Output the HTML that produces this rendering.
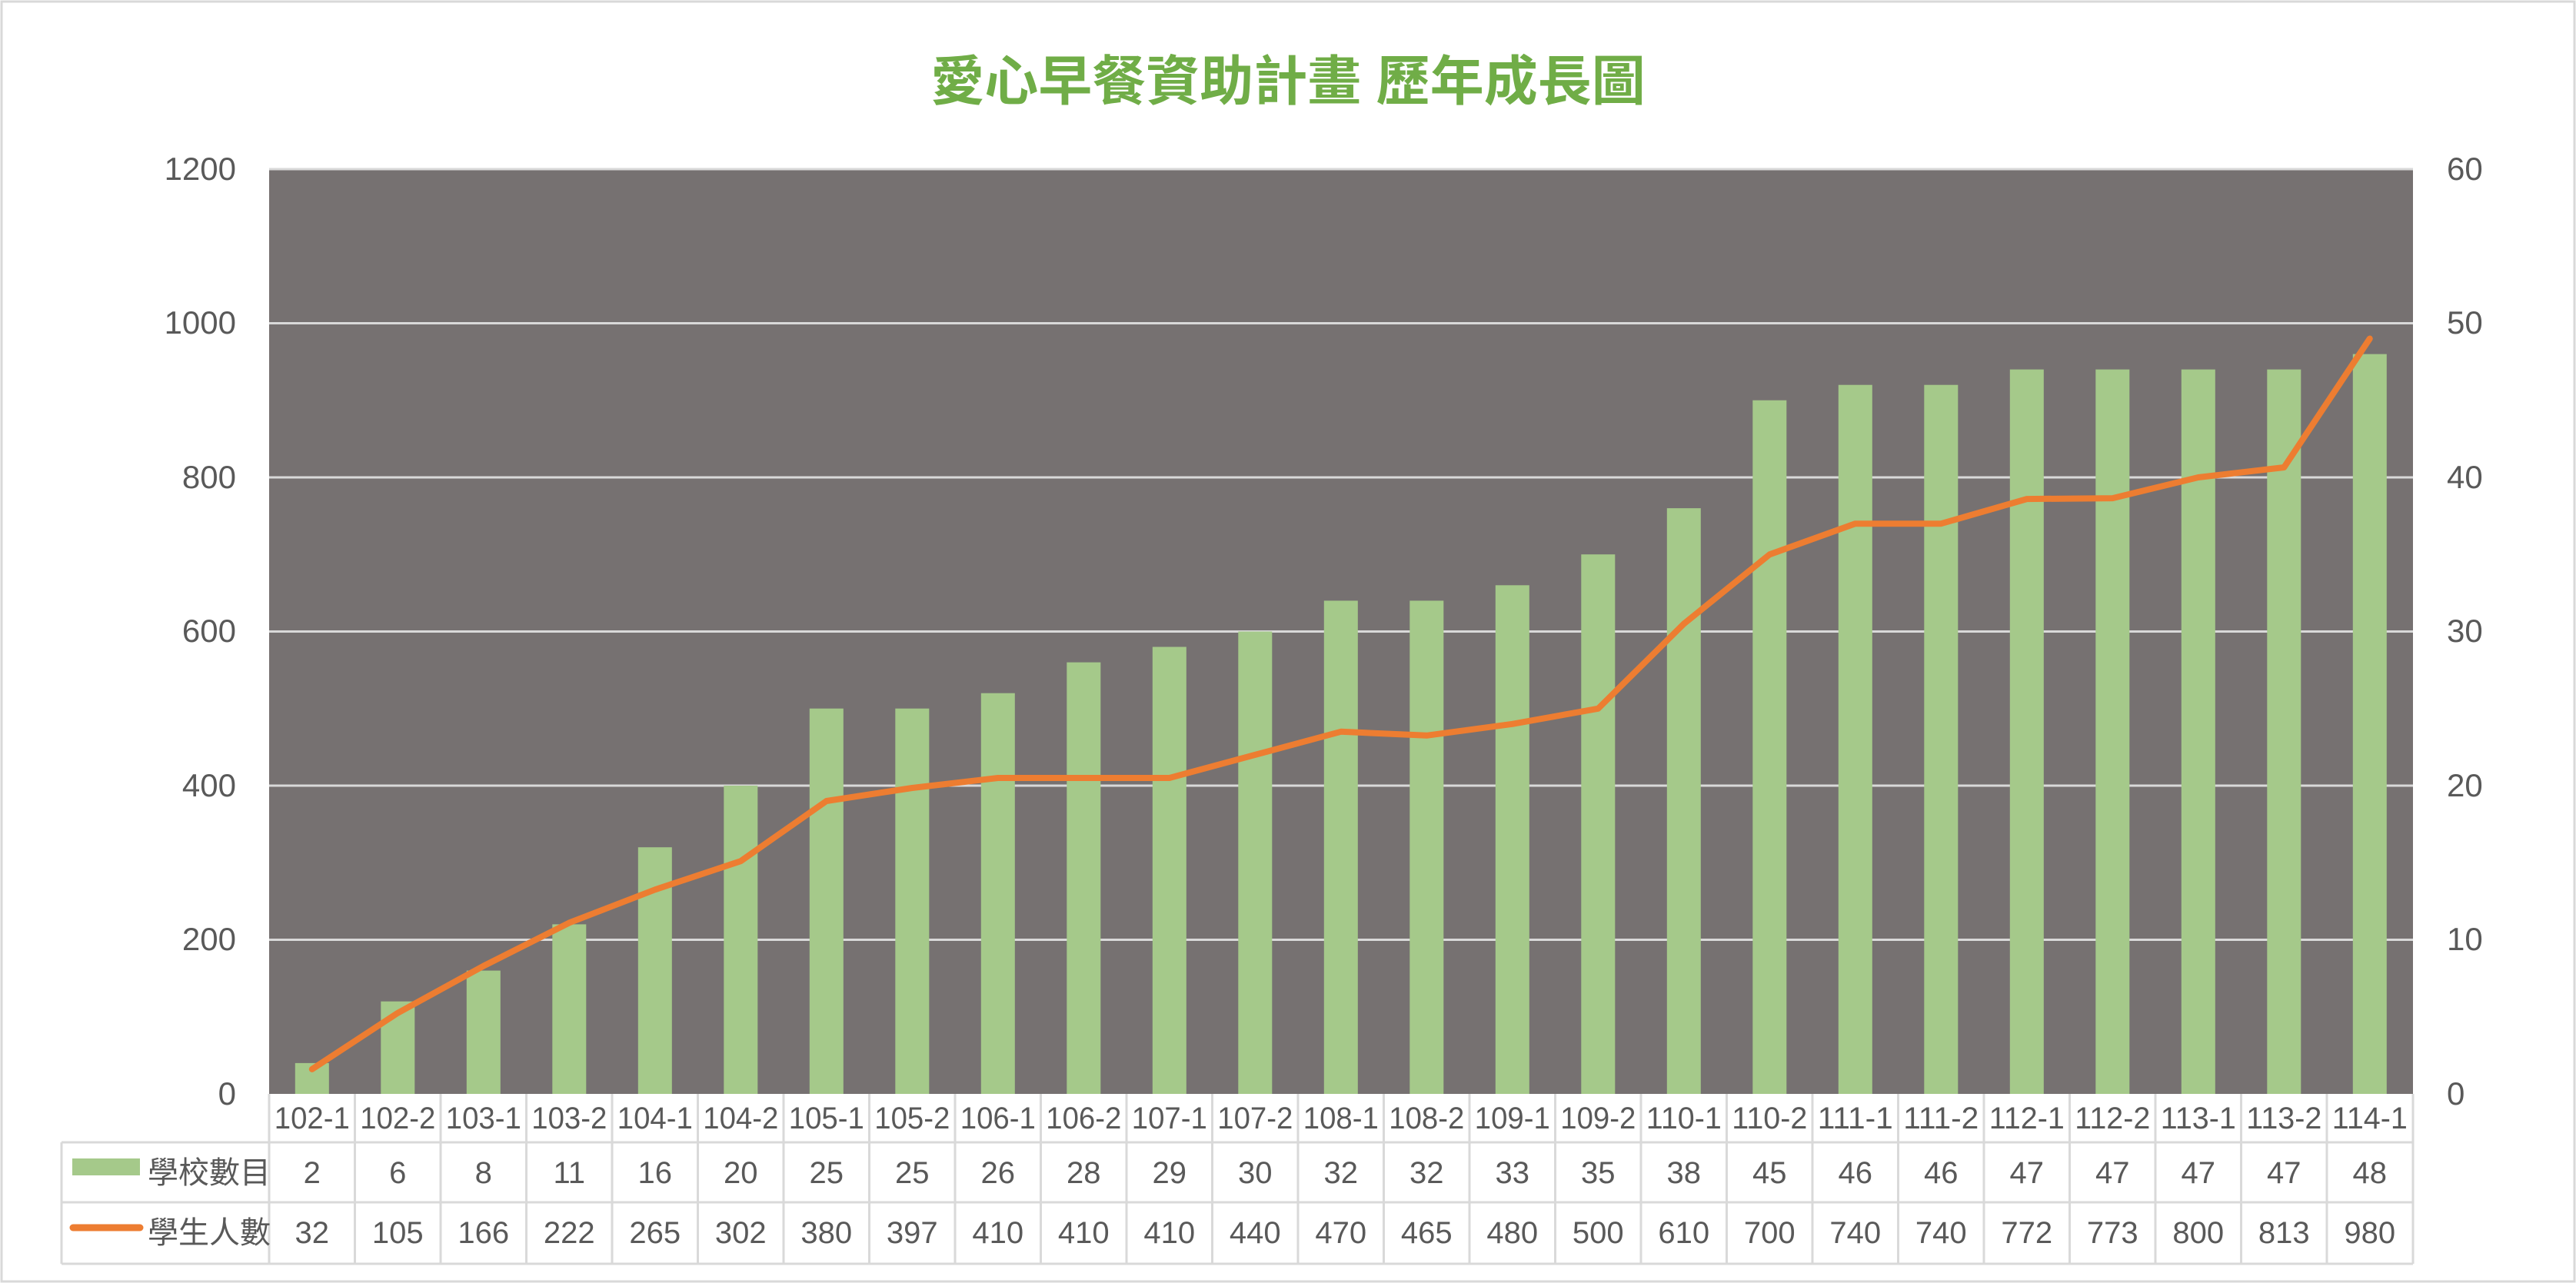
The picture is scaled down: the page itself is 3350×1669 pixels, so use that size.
<!DOCTYPE html>
<html><head><meta charset="utf-8"><style>html,body{margin:0;padding:0;background:#fff}svg{display:block}</style></head>
<body>
<svg width="3350" height="1669" viewBox="0 0 3350 1669" xmlns="http://www.w3.org/2000/svg" font-family="'Liberation Sans','Noto Sans CJK TC',sans-serif">
<rect x="2" y="2" width="3346" height="1665" fill="#fff" stroke="#d9d9d9" stroke-width="3"/>
<text x="1675" y="130" text-anchor="middle" font-size="70" font-weight="bold" fill="#70ad47" font-family="'Liberation Sans','Noto Sans CJK TC',sans-serif">愛心早餐資助計畫 歷年成長圖</text>
<rect x="350" y="220" width="2788" height="1203" fill="#767171"/>
<g stroke="#d9d9d9" stroke-width="3">
<line x1="350" y1="220" x2="3138" y2="220"/>
<line x1="350" y1="420.5" x2="3138" y2="420.5"/>
<line x1="350" y1="621" x2="3138" y2="621"/>
<line x1="350" y1="821.5" x2="3138" y2="821.5"/>
<line x1="350" y1="1022" x2="3138" y2="1022"/>
<line x1="350" y1="1222.5" x2="3138" y2="1222.5"/>
</g>
<g fill="#a5c98a">
<rect x="383.8" y="1382.9" width="44" height="40.1"/>
<rect x="495.3" y="1302.7" width="44" height="120.3"/>
<rect x="606.8" y="1262.6" width="44" height="160.4"/>
<rect x="718.3" y="1202.4" width="44" height="220.6"/>
<rect x="829.8" y="1102.2" width="44" height="320.8"/>
<rect x="941.3" y="1022" width="44" height="401"/>
<rect x="1052.8" y="921.7" width="44" height="501.3"/>
<rect x="1164.3" y="921.7" width="44" height="501.3"/>
<rect x="1275.8" y="901.7" width="44" height="521.3"/>
<rect x="1387.3" y="861.6" width="44" height="561.4"/>
<rect x="1498.8" y="841.5" width="44" height="581.5"/>
<rect x="1610.3" y="821.5" width="44" height="601.5"/>
<rect x="1721.8" y="781.4" width="44" height="641.6"/>
<rect x="1833.3" y="781.4" width="44" height="641.6"/>
<rect x="1944.8" y="761.3" width="44" height="661.7"/>
<rect x="2056.3" y="721.2" width="44" height="701.8"/>
<rect x="2167.8" y="661.1" width="44" height="761.9"/>
<rect x="2279.3" y="520.7" width="44" height="902.3"/>
<rect x="2390.8" y="500.7" width="44" height="922.3"/>
<rect x="2502.3" y="500.7" width="44" height="922.3"/>
<rect x="2613.8" y="480.6" width="44" height="942.4"/>
<rect x="2725.3" y="480.6" width="44" height="942.4"/>
<rect x="2836.8" y="480.6" width="44" height="942.4"/>
<rect x="2948.3" y="480.6" width="44" height="942.4"/>
<rect x="3059.8" y="460.6" width="44" height="962.4"/>
</g>
<polyline fill="none" stroke="#ed7d31" stroke-width="8" stroke-linecap="round" stroke-linejoin="round" points="405.8,1390.9 517.3,1317.7 628.8,1256.6 740.3,1200.4 851.8,1157.3 963.3,1120.2 1074.8,1042 1186.3,1025 1297.8,1012 1409.3,1012 1520.8,1012 1632.3,981.9 1743.8,951.8 1855.3,956.8 1966.8,941.8 2078.3,921.8 2189.8,811.5 2301.3,721.3 2412.8,681.2 2524.3,681.2 2635.8,649.1 2747.3,648.1 2858.8,621 2970.3,608 3081.8,440.5"/>
<g font-size="42" fill="#595959" text-anchor="end">
<text x="307" y="234">1200</text><text x="307" y="434">1000</text><text x="307" y="635">800</text><text x="307" y="835">600</text><text x="307" y="1036">400</text><text x="307" y="1236">200</text><text x="307" y="1437">0</text>
</g>
<g font-size="42" fill="#595959" text-anchor="start">
<text x="3182" y="234">60</text><text x="3182" y="434">50</text><text x="3182" y="635">40</text><text x="3182" y="835">30</text><text x="3182" y="1036">20</text><text x="3182" y="1236">10</text><text x="3182" y="1437">0</text>
</g>
<g stroke="#d9d9d9" stroke-width="3" fill="none">
<line x1="350" y1="1423" x2="350" y2="1644"/>
<line x1="80" y1="1486" x2="3138" y2="1486"/>
<line x1="80" y1="1564" x2="3138" y2="1564"/>
<line x1="80" y1="1644" x2="3138" y2="1644"/>
<line x1="80" y1="1486" x2="80" y2="1644"/>
<line x1="461.5" y1="1423" x2="461.5" y2="1644"/><line x1="573" y1="1423" x2="573" y2="1644"/><line x1="684.5" y1="1423" x2="684.5" y2="1644"/><line x1="796" y1="1423" x2="796" y2="1644"/><line x1="907.5" y1="1423" x2="907.5" y2="1644"/><line x1="1019" y1="1423" x2="1019" y2="1644"/><line x1="1130.5" y1="1423" x2="1130.5" y2="1644"/><line x1="1242" y1="1423" x2="1242" y2="1644"/><line x1="1353.5" y1="1423" x2="1353.5" y2="1644"/><line x1="1465" y1="1423" x2="1465" y2="1644"/><line x1="1576.5" y1="1423" x2="1576.5" y2="1644"/><line x1="1688" y1="1423" x2="1688" y2="1644"/><line x1="1799.5" y1="1423" x2="1799.5" y2="1644"/><line x1="1911" y1="1423" x2="1911" y2="1644"/><line x1="2022.5" y1="1423" x2="2022.5" y2="1644"/><line x1="2134" y1="1423" x2="2134" y2="1644"/><line x1="2245.5" y1="1423" x2="2245.5" y2="1644"/><line x1="2357" y1="1423" x2="2357" y2="1644"/><line x1="2468.5" y1="1423" x2="2468.5" y2="1644"/><line x1="2580" y1="1423" x2="2580" y2="1644"/><line x1="2691.5" y1="1423" x2="2691.5" y2="1644"/><line x1="2803" y1="1423" x2="2803" y2="1644"/><line x1="2914.5" y1="1423" x2="2914.5" y2="1644"/><line x1="3026" y1="1423" x2="3026" y2="1644"/><line x1="3138" y1="1423" x2="3138" y2="1644"/>
</g>
<rect x="94" y="1507" width="88" height="22" fill="#a5c98a"/>
<line x1="95" y1="1597" x2="182" y2="1597" stroke="#ed7d31" stroke-width="9" stroke-linecap="round"/>
<g font-size="40" fill="#595959">
<text x="192" y="1539">學校數目</text>
<text x="192" y="1617">學生人數</text>
</g>
<g font-size="40" fill="#595959" text-anchor="middle">
<text x="405.8" y="1468" textLength="98" lengthAdjust="spacingAndGlyphs">102-1</text><text x="517.3" y="1468" textLength="98" lengthAdjust="spacingAndGlyphs">102-2</text><text x="628.8" y="1468" textLength="98" lengthAdjust="spacingAndGlyphs">103-1</text><text x="740.3" y="1468" textLength="98" lengthAdjust="spacingAndGlyphs">103-2</text><text x="851.8" y="1468" textLength="98" lengthAdjust="spacingAndGlyphs">104-1</text><text x="963.3" y="1468" textLength="98" lengthAdjust="spacingAndGlyphs">104-2</text><text x="1074.8" y="1468" textLength="98" lengthAdjust="spacingAndGlyphs">105-1</text><text x="1186.3" y="1468" textLength="98" lengthAdjust="spacingAndGlyphs">105-2</text><text x="1297.8" y="1468" textLength="98" lengthAdjust="spacingAndGlyphs">106-1</text><text x="1409.3" y="1468" textLength="98" lengthAdjust="spacingAndGlyphs">106-2</text><text x="1520.8" y="1468" textLength="98" lengthAdjust="spacingAndGlyphs">107-1</text><text x="1632.3" y="1468" textLength="98" lengthAdjust="spacingAndGlyphs">107-2</text><text x="1743.8" y="1468" textLength="98" lengthAdjust="spacingAndGlyphs">108-1</text><text x="1855.3" y="1468" textLength="98" lengthAdjust="spacingAndGlyphs">108-2</text><text x="1966.8" y="1468" textLength="98" lengthAdjust="spacingAndGlyphs">109-1</text><text x="2078.3" y="1468" textLength="98" lengthAdjust="spacingAndGlyphs">109-2</text><text x="2189.8" y="1468" textLength="98" lengthAdjust="spacingAndGlyphs">110-1</text><text x="2301.3" y="1468" textLength="98" lengthAdjust="spacingAndGlyphs">110-2</text><text x="2412.8" y="1468" textLength="98" lengthAdjust="spacingAndGlyphs">111-1</text><text x="2524.3" y="1468" textLength="98" lengthAdjust="spacingAndGlyphs">111-2</text><text x="2635.8" y="1468" textLength="98" lengthAdjust="spacingAndGlyphs">112-1</text><text x="2747.3" y="1468" textLength="98" lengthAdjust="spacingAndGlyphs">112-2</text><text x="2858.8" y="1468" textLength="98" lengthAdjust="spacingAndGlyphs">113-1</text><text x="2970.3" y="1468" textLength="98" lengthAdjust="spacingAndGlyphs">113-2</text><text x="3081.8" y="1468" textLength="98" lengthAdjust="spacingAndGlyphs">114-1</text>
</g>
<g font-size="40" fill="#595959" text-anchor="middle">
<text x="405.8" y="1539">2</text><text x="517.3" y="1539">6</text><text x="628.8" y="1539">8</text><text x="740.3" y="1539">11</text><text x="851.8" y="1539">16</text><text x="963.3" y="1539">20</text><text x="1074.8" y="1539">25</text><text x="1186.3" y="1539">25</text><text x="1297.8" y="1539">26</text><text x="1409.3" y="1539">28</text><text x="1520.8" y="1539">29</text><text x="1632.3" y="1539">30</text><text x="1743.8" y="1539">32</text><text x="1855.3" y="1539">32</text><text x="1966.8" y="1539">33</text><text x="2078.3" y="1539">35</text><text x="2189.8" y="1539">38</text><text x="2301.3" y="1539">45</text><text x="2412.8" y="1539">46</text><text x="2524.3" y="1539">46</text><text x="2635.8" y="1539">47</text><text x="2747.3" y="1539">47</text><text x="2858.8" y="1539">47</text><text x="2970.3" y="1539">47</text><text x="3081.8" y="1539">48</text>
</g>
<g font-size="40" fill="#595959" text-anchor="middle">
<text x="405.8" y="1617">32</text><text x="517.3" y="1617">105</text><text x="628.8" y="1617">166</text><text x="740.3" y="1617">222</text><text x="851.8" y="1617">265</text><text x="963.3" y="1617">302</text><text x="1074.8" y="1617">380</text><text x="1186.3" y="1617">397</text><text x="1297.8" y="1617">410</text><text x="1409.3" y="1617">410</text><text x="1520.8" y="1617">410</text><text x="1632.3" y="1617">440</text><text x="1743.8" y="1617">470</text><text x="1855.3" y="1617">465</text><text x="1966.8" y="1617">480</text><text x="2078.3" y="1617">500</text><text x="2189.8" y="1617">610</text><text x="2301.3" y="1617">700</text><text x="2412.8" y="1617">740</text><text x="2524.3" y="1617">740</text><text x="2635.8" y="1617">772</text><text x="2747.3" y="1617">773</text><text x="2858.8" y="1617">800</text><text x="2970.3" y="1617">813</text><text x="3081.8" y="1617">980</text>
</g>
</svg>
</body></html>
